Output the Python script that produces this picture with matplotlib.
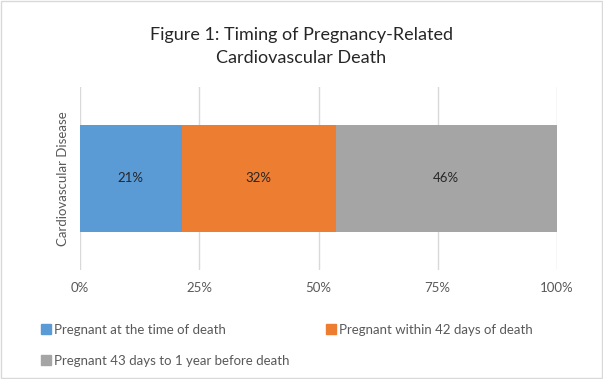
import matplotlib.pyplot as plt
from matplotlib.patches import Patch

plt.rcParams['font.family'] = ['Lato', 'DejaVu Sans']

category = "Cardiovascular Disease"
series = ["Pregnant at the time of death",
          "Pregnant within 42 days of death",
          "Pregnant 43 days to 1 year before death"]
shares = [21.3, 32.3, 46.4]
labels = ["21%", "32%", "46%"]
colors = ["#5B9BD5", "#ED7D31", "#A5A5A5"]
ticks = [0, 25, 50, 75, 100]
tick_labels = ["0%", "25%", "50%", "75%", "100%"]

fig = plt.figure(figsize=(6.03, 3.79), dpi=100)
ax = fig.add_axes([0.1327, 0.2876, 0.791, 0.4829])

left = 0
for val, lab, col in zip(shares, labels, colors):
    ax.barh(0, val, left=left, height=0.58, color=col, zorder=3)
    ax.text(left + val / 2, 0, lab, ha='center', va='center',
            fontsize=9.5, color='#262626', zorder=4)
    left += val

ax.set_xlim(0, 100)
ax.set_ylim(-0.5, 0.5)
ax.set_xticks(ticks)
ax.set_xticklabels(tick_labels, fontsize=9.5, color='#595959')
ax.tick_params(axis='x', length=0, pad=9)
ax.set_yticks([])
ax.set_ylabel(category, fontsize=9.5, color='#595959', labelpad=8)
ax.grid(axis='x', color='#D9D9D9', linewidth=1, zorder=0)
for s in ax.spines.values():
    s.set_visible(False)

fig.suptitle("Figure 1: Timing of Pregnancy-Related\nCardiovascular Death",
             fontsize=13, color='#262626', y=0.93, linespacing=1.55)

handles = [Patch(color=colors[0]), Patch(color=colors[2]), Patch(color=colors[1])]
names = [series[0], series[2], series[1]]
fig.legend(handles, names, ncol=2, loc='upper left', bbox_to_anchor=(0.06, 0.16),
           frameon=False, fontsize=9.5, labelcolor='#595959', handlelength=0.75,
           handleheight=0.75, handletextpad=0.2, columnspacing=2.8, labelspacing=1.45,
           borderaxespad=0)

fig.patches.append(plt.Rectangle((0.002, 0.003), 0.996, 0.994, transform=fig.transFigure,
                                 fill=False, edgecolor='#D9D9D9', linewidth=1))

fig.savefig("out.png", dpi=100)
